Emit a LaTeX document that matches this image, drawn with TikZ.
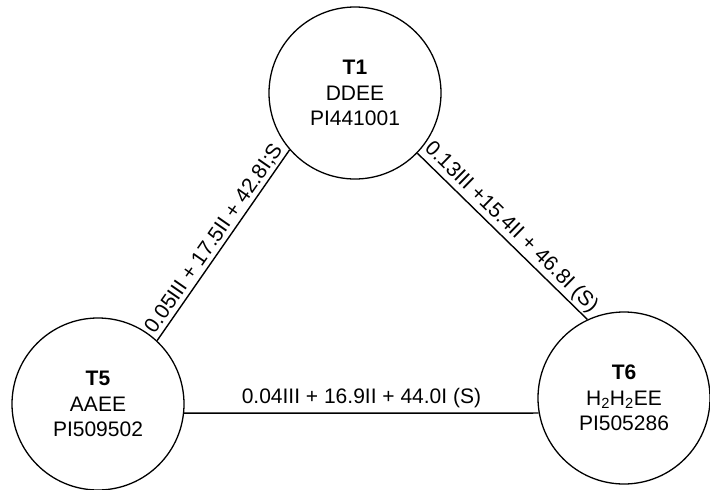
\documentclass[tikz,border=0pt]{standalone}
\usepackage{fontspec}
\setmainfont{Liberation Sans}
\begin{document}
\begin{tikzpicture}[x=1pt,y=-1pt,
  state/.style={draw, circle, line width=1.3pt, minimum size=172pt, inner sep=0pt,
    align=center, font=\fontsize{21}{25.5}\selectfont},
  link/.style={line width=1.4pt},
  lbl/.style={font=\fontsize{21}{25.5}\selectfont, inner sep=2pt}]
\useasboundingbox (0,0) rectangle (710,490);

% the three tree nodes
\node[state] (t1) at (355,93) {\textbf{T1}\\DDEE\\PI441001};
\node[state] (t5) at (98,404) {\textbf{T5}\\AAEE\\PI509502};
\node[state] (t6) at (624,398) {\textbf{T6}\\H\textsubscript{2}H\textsubscript{2}EE\\PI505286};

% connections with their weights
\draw[link] (t5.47) -- node[lbl, midway, sloped, above] {0.05III + 17.5II + 42.8I;S} (t1.221);
\draw[link] (t1.316) -- node[lbl, midway, sloped, above] {0.13III +15.4II + 46.8I (S)} (t6.115);
\draw[link] (t5.-6) -- node[lbl, midway, above=3pt] {0.04III + 16.9II + 44.0I (S)} (t6.190);
\end{tikzpicture}
\end{document}
